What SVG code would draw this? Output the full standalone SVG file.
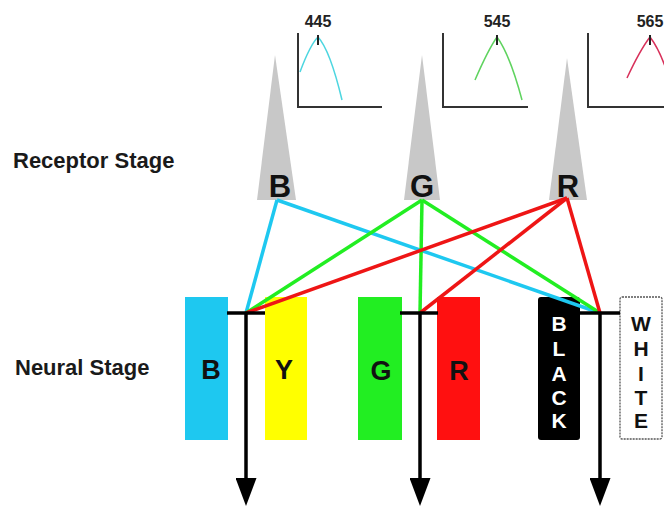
<svg xmlns="http://www.w3.org/2000/svg" width="664" height="510" viewBox="0 0 664 510">
<style>
.lbl{font-family:"Liberation Sans",Arial,sans-serif;font-size:22px;font-weight:bold;fill:#1a1a1a}
.big{font-family:"Liberation Sans",Arial,sans-serif;font-size:27px;font-weight:bold;fill:#111;text-anchor:middle}
.rec{font-family:"Liberation Sans",Arial,sans-serif;font-size:31px;font-weight:bold;fill:#111;text-anchor:middle}
.vl{font-family:"Liberation Sans",Arial,sans-serif;font-size:21px;font-weight:bold;text-anchor:middle}
.num{font-family:"Liberation Sans",Arial,sans-serif;font-size:16px;font-weight:bold;fill:#222;text-anchor:middle}
.axis{fill:none;stroke:#333;stroke-width:2}
.cone{fill:#c8c8c8}
.c{fill:none;stroke-width:3.5}
.stem{stroke:#000;stroke-width:3.5;fill:none}
</style>
<defs>
<marker id="ah" markerWidth="8" markerHeight="6" refX="4" refY="0" orient="auto" markerUnits="strokeWidth" viewBox="0 -3 8 6"><path d="M0,-3 L8,0 L0,3 Z" fill="#000"/></marker>
</defs>
<rect width="664" height="510" fill="#fff"/>
<text class="lbl" x="13" y="168">Receptor Stage</text>
<text class="lbl" x="15" y="375">Neural Stage</text>

<g id="spec-b">
<text class="num" x="318" y="27">445</text>
<path class="axis" d="M298,33 V107 H382"/>
<path d="M300,72 Q310,45 318,37 Q330,50 342,100" fill="none" stroke="#4dd6e0" stroke-width="1.5"/>
<line x1="318" y1="35" x2="318" y2="45" stroke="#222" stroke-width="2"/>
</g>
<g id="spec-g">
<text class="num" x="497" y="27">545</text>
<path class="axis" d="M443,33 V107 H528"/>
<path d="M475,80 Q488,50 497,37 Q510,55 522,100" fill="none" stroke="#5fd35f" stroke-width="1.5"/>
<line x1="497" y1="35" x2="497" y2="45" stroke="#222" stroke-width="2"/>
</g>
<g id="spec-r">
<text class="num" x="650" y="27">565</text>
<path class="axis" d="M588,33 V107 H664"/>
<path d="M627,78 Q640,50 650,37 Q660,50 668,75" fill="none" stroke="#d8305a" stroke-width="1.5"/>
<line x1="650" y1="35" x2="650" y2="45" stroke="#222" stroke-width="2"/>
</g>

<g id="rec-b"><polygon class="cone" points="275,55 257,200 296,200"/><text class="rec" x="280" y="197">B</text></g>
<g id="rec-g"><polygon class="cone" points="422,55 404,200 440,200"/><text class="rec" x="422" y="197">G</text></g>
<g id="rec-r"><polygon class="cone" points="567,58 549,200 587,200"/><text class="rec" x="568" y="197">R</text></g>

<g id="neu-b"><rect x="185" y="297" width="43" height="143" fill="#1ec8f0"/><text class="big" x="211" y="379">B</text></g>
<g id="neu-y"><rect x="265" y="297" width="42" height="143" fill="#ffff00"/><text class="big" x="284" y="379">Y</text></g>
<g id="neu-g"><rect x="358" y="297" width="44" height="143" fill="#22ee22"/><text class="big" x="381" y="380">G</text></g>
<g id="neu-r"><rect x="437" y="297" width="43" height="143" fill="#ff1010"/><text class="big" x="459" y="380">R</text></g>
<g id="neu-black"><rect x="538" y="297" width="42" height="143" rx="3" fill="#000"/>
<g class="vl" fill="#fff"><text x="559" y="331">B</text><text x="559" y="356">L</text><text x="559" y="381">A</text><text x="559" y="405">C</text><text x="559" y="428">K</text></g></g>
<g id="neu-white"><rect x="620" y="297" width="42" height="142" rx="2" fill="#fff" stroke="#555" stroke-width="1.3" stroke-dasharray="2,1"/>
<g class="vl" fill="#111"><text x="641" y="331">W</text><text x="641" y="356">H</text><text x="641" y="381">I</text><text x="641" y="405">T</text><text x="641" y="428">E</text></g></g>

<g id="connectors">
<g stroke="#1ec8f0" class="c"><line x1="277" y1="200" x2="246" y2="313"/><line x1="277" y1="200" x2="600" y2="313"/></g>
<g stroke="#22ee22" class="c"><line x1="422" y1="200" x2="246" y2="313"/><line x1="422" y1="200" x2="420" y2="313"/><line x1="422" y1="200" x2="600" y2="313"/></g>
<g stroke="#ee1515" class="c"><line x1="567" y1="198" x2="246" y2="313"/><line x1="567" y1="198" x2="420" y2="313"/><line x1="567" y1="198" x2="600" y2="313"/></g>
<g class="stem">
<line x1="227" y1="313" x2="265" y2="313"/><line x1="246" y1="313" x2="246" y2="492" marker-end="url(#ah)"/>
<line x1="400" y1="313" x2="438" y2="313"/><line x1="420" y1="313" x2="420" y2="492" marker-end="url(#ah)"/>
<line x1="580" y1="313" x2="620" y2="313"/><line x1="600" y1="313" x2="600" y2="492" marker-end="url(#ah)"/>
</g>
</g>
</svg>
